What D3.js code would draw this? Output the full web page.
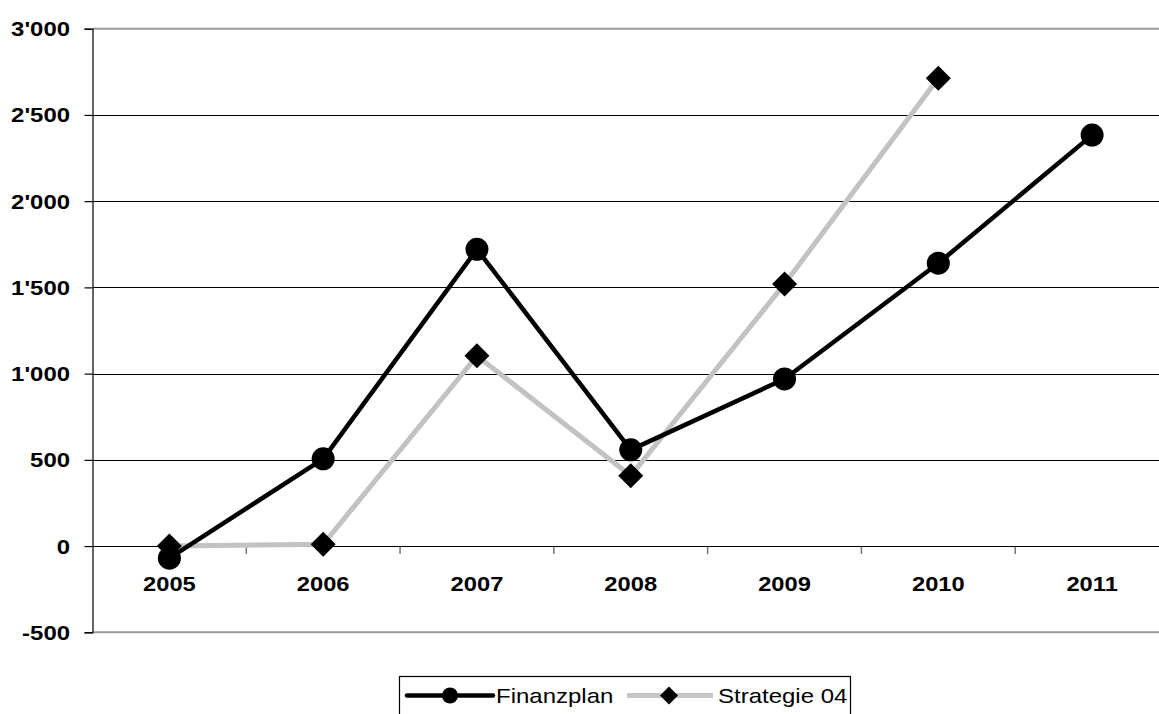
<!DOCTYPE html>
<html>
<head>
<meta charset="utf-8">
<script src="https://cdn.jsdelivr.net/npm/d3@7"></script>
<style>
  body { margin: 0; background: #fff; }
  svg { display: block; font-family: "Liberation Sans", Arial, sans-serif; }
</style>
</head>
<body>
<script>
// data
const years = ['2005', '2006', '2007', '2008', '2009', '2010', '2011']
const finanzplan = [-70, 506, 1721, 558, 969, 1640, 2383]
const strategie = [0, 10, 1103, 408, 1520, 2712, null]
const yTicks = [-500, 0, 500, 1000, 1500, 2000, 2500, 3000]
const seriesNames = ['Finanzplan', 'Strategie 04']

const W = 1159, H = 714
const plot = {left: 92.5, right: 1169, top: 28.7, bottom: 632.3}

const svg = d3.select('body').append('svg')
  .attr('width', W).attr('height', H)

const x = d3.scaleBand().domain(years).range([plot.left, plot.right])
const y = d3.scaleLinear().domain([-500, 3000]).range([plot.bottom, plot.top])

const fmt = (v) => {
  const s = d3.format(',')(v).replace(/,/g, "'")
  return s.replace('−', '-')
}

// gridlines
svg.append('g').selectAll('line')
  .data(yTicks.filter((d) => d > -500 && d < 3000))
  .join('line')
  .attr('x1', plot.left).attr('x2', plot.right)
  .attr('y1', (d) => Math.round(y(d)) + 0.5).attr('y2', (d) => Math.round(y(d)) + 0.5)
  .attr('stroke', '#000').attr('stroke-width', 1.2)

// top and bottom frame
svg.append('line').attr('x1', plot.left).attr('x2', plot.right)
  .attr('y1', plot.top).attr('y2', plot.top)
  .attr('stroke', '#9a9a9a').attr('stroke-width', 2)
svg.append('line').attr('x1', plot.left).attr('x2', plot.right)
  .attr('y1', plot.bottom).attr('y2', plot.bottom)
  .attr('stroke', '#9a9a9a').attr('stroke-width', 2)

// y axis
const yaxis = d3.axisLeft(y).tickValues(yTicks).tickSize(8).tickFormat('')
const gy = svg.append('g').attr('transform', `translate(${plot.left},0)`).call(yaxis)
gy.select('.domain').attr('stroke', '#333').attr('stroke-width', 1.5)
gy.selectAll('.tick line').attr('stroke', '#000').attr('stroke-width', 1.2)

svg.append('g').selectAll('text')
  .data(yTicks)
  .join('text')
  .attr('transform', (d) => `translate(70,${y(d) + 7.5}) scale(1.14,1)`)
  .attr('text-anchor', 'end')
  .attr('font-size', 21).attr('font-weight', 'bold')
  .text(fmt)

// x ticks on the zero line
svg.append('g').selectAll('line')
  .data(years.slice(1))
  .join('line')
  .attr('x1', (d) => x(d)).attr('x2', (d) => x(d))
  .attr('y1', y(0) + 1).attr('y2', y(0) + 8)
  .attr('stroke', '#777').attr('stroke-width', 1.5)

svg.append('g').selectAll('text')
  .data(years)
  .join('text')
  .attr('transform', (d) => `translate(${x(d) + x.bandwidth() / 2},591) scale(1.13,1)`)
  .attr('text-anchor', 'middle')
  .attr('font-size', 21).attr('font-weight', 'bold')
  .text((d) => d)

const cx = (i) => x(years[i]) + x.bandwidth() / 2

// Strategie 04
const sPts = strategie.map((v, i) => [i, v]).filter((d) => d[1] != null)
const line = d3.line().x((d) => cx(d[0])).y((d) => y(d[1]))

svg.append('path').datum(sPts)
  .attr('d', line)
  .attr('fill', 'none').attr('stroke', '#c6c6c6').attr('stroke-width', 5)
svg.append('path').datum(sPts)
  .attr('d', line)
  .attr('fill', 'none').attr('stroke', '#b4b4b4').attr('stroke-width', 5)
  .attr('stroke-dasharray', '1 2').attr('opacity', 0.5)

// Finanzplan
const fPts = finanzplan.map((v, i) => [i, v])
svg.append('path').datum(fPts)
  .attr('d', line)
  .attr('fill', 'none').attr('stroke', '#000').attr('stroke-width', 4.5)
  .attr('stroke-linejoin', 'round')

const diamond = (r) => `M0,${-r}L${r},0L0,${r}L${-r},0Z`

svg.append('g').selectAll('path')
  .data(sPts)
  .join('path')
  .attr('transform', (d) => `translate(${cx(d[0])},${y(d[1])})`)
  .attr('d', diamond(12.5))
  .attr('fill', '#000')

svg.append('g').selectAll('circle')
  .data(fPts)
  .join('circle')
  .attr('cx', (d) => cx(d[0])).attr('cy', (d) => y(d[1]))
  .attr('r', 11.5).attr('fill', '#000')

// legend
const lg = svg.append('g')
lg.append('rect')
  .attr('x', 399.5).attr('y', 676.5).attr('width', 451).attr('height', 60)
  .attr('fill', '#fff').attr('stroke', '#000').attr('stroke-width', 1.2)

const legendItems = [
  {name: seriesNames[0], x0: 407, x1: 493, tx: 496},
  {name: seriesNames[1], x0: 627, x1: 713, tx: 718}
]
const ly = 695.5

lg.append('line').attr('x1', legendItems[0].x0).attr('x2', legendItems[0].x1)
  .attr('y1', ly).attr('y2', ly).attr('stroke', '#000').attr('stroke-width', 4.5)
  .attr('stroke-linecap', 'round')
lg.append('circle').attr('cx', 450).attr('cy', ly).attr('r', 8).attr('fill', '#000')

lg.append('line').attr('x1', legendItems[1].x0).attr('x2', legendItems[1].x1)
  .attr('y1', ly).attr('y2', ly).attr('stroke', '#c6c6c6').attr('stroke-width', 5)
lg.append('path').attr('transform', `translate(669,${ly})`)
  .attr('d', diamond(9)).attr('fill', '#000')

lg.selectAll('text.lbl')
  .data(legendItems)
  .join('text')
  .attr('class', 'lbl')
  .attr('transform', (d) => `translate(${d.tx},${ly + 7}) scale(1.2,1)`)
  .attr('font-size', 20)
  .text((d) => d.name)
</script>
</body>
</html>
